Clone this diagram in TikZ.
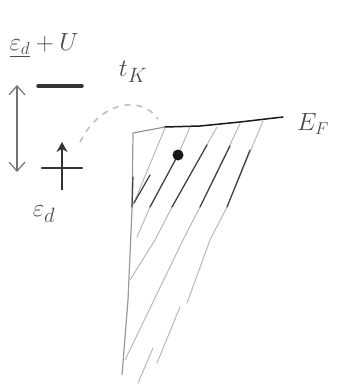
\documentclass[tikz,border=0pt]{standalone}
\usetikzlibrary{arrows.meta}
\begin{document}
\begin{tikzpicture}[x=1pt,y=-1pt,
  lbl/.style={text=black!70, font=\fontsize{26}{30}\selectfont, inner sep=0pt},
  biglbl/.style={lbl, font=\fontsize{30}{34}\selectfont},
  level/.style={line width=3pt, draw=black!80, line cap=round},
  hatchlight/.style={draw=black!28, line width=1pt, line cap=round},
  hatchdark/.style={draw=black!75, line width=1.2pt, line cap=round},
  dbl/.style={draw=black!55, line width=1.2pt, {Straight Barb[length=9pt,width=16pt]}-{Straight Barb[length=9pt,width=16pt]}}]
\useasboundingbox (0,0) rectangle (345,385);
% labels
\node[lbl] (EU) at (44,45) {$\underline{\varepsilon_d}+U$};
\node[biglbl] (tK) at (133,72) {$t_K$};
\node[biglbl] (Ed) at (44,214) {$\varepsilon_d$};
\node[lbl] (EF) at (313,124) {$E_F$};
% levels
\coordinate (u1) at (38,86); \coordinate (u2) at (82,86);
\draw[level, line width=3.5pt] (u1) -- (u2);
\coordinate (l1) at (42,168); \coordinate (l2) at (82,168);
\draw[level, line width=2.2pt] (l1) -- (l2);
\coordinate (s1) at (62,190); \coordinate (s2) at (62,142);
\draw[draw=black!80, line width=2pt, -{Stealth[length=10pt,width=11pt]}] (s1) -- (s2);
% double arrow
\coordinate (a1) at (17,85); \coordinate (a2) at (17,172);
\draw[dbl] (a1) -- (a2);
% hopping arc
\coordinate (c1) at (80,142); \coordinate (c2) at (158,119);
\draw[draw=black!25, line width=1.6pt, dash pattern=on 6pt off 6pt] (c1) .. controls (100,102) and (140,94) .. (c2);
% band
\coordinate (corner) at (133,133); \coordinate (f1) at (165,127); \coordinate (f2) at (283,117);
\draw[draw=black!45, line width=1.1pt] (corner) -- (f1);
\draw[draw=black!90, line width=1.5pt, line cap=round] (f1) -- (200,126) -- (240,122) -- (f2);
\draw[draw=black!40, line width=1.2pt] (corner) -- (132,210) -- (128,300) -- (122,375);
\draw[hatchdark] (133,177) -- (132,207);
% hatch lines
\draw[hatchlight] (165,128) -- (133,205);
\draw[hatchdark] (150,175) -- (134,203);
\draw[hatchlight] (190,127) -- (178,155) -- (150,207) -- (137,237);
\draw[hatchdark] (178,155) -- (150,207);
\draw[hatchlight] (217,127) -- (172,207) -- (155,240) -- (130,280);
\draw[hatchdark] (207,145) -- (172,207);
\draw[hatchlight] (240,124) -- (200,207) -- (183,240) -- (125,360);
\draw[hatchdark] (230,146) -- (200,207);
\draw[hatchlight] (263,121) -- (227,207) -- (210,240) -- (187,303);
\draw[hatchlight] (180,307) -- (157,363);
\draw[hatchdark] (250,150) -- (227,207);
\draw[hatchlight] (153,348) -- (138,383);
% electron
\coordinate (dot) at (178,155);
\fill[black!90] (dot) circle (5.5);
\end{tikzpicture}
\end{document}
